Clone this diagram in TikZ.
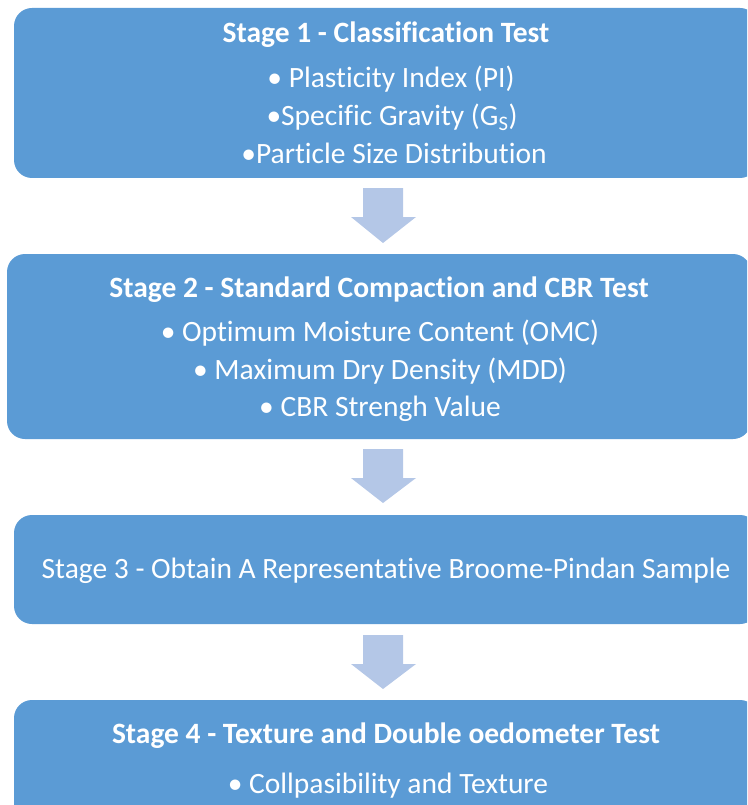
\documentclass[tikz,border=0pt]{standalone}
\usepackage{fontspec}
\setmainfont{Carlito}[Ligatures=NoCommon]
\definecolor{boxblue}{HTML}{5B9BD5}
\definecolor{arrowblue}{HTML}{B4C7E7}
\tikzset{
  stagebox/.style={fill=boxblue, draw=none, rounded corners=18pt, inner sep=0pt},
  title/.style={text=white, font=\fontsize{29.5}{34}\selectfont\bfseries, anchor=base, inner sep=0pt},
  item/.style={text=white, font=\fontsize{29.5}{34}\selectfont, anchor=base, inner sep=0pt},
  flowarrow/.style={fill=arrowblue, draw=none}
}
\newcommand{\blockarrow}[3]{% x center, top y, tip y
  \fill[flowarrow] (#1-20,#2) -- (#1+20,#2) -- (#1+20,#2+29) -- (#1+33,#2+29) -- (#1,#3) -- (#1-32,#2+29) -- (#1-20,#2+29) -- cycle;
}
\begin{document}
\begin{tikzpicture}[x=1pt,y=-1pt]
\useasboundingbox (0,0) rectangle (747,805);
\clip (0,0) rectangle (747,805);
% boxes
\node[stagebox, minimum width=744pt, minimum height=170pt] (b1) at (386,93) {};
\node[stagebox, minimum width=744pt, minimum height=185pt] (b2) at (379,346.5) {};
\node[stagebox, minimum width=744pt, minimum height=109pt] (b3) at (386,569.5) {};
\node[stagebox, minimum width=744pt, minimum height=140pt] (b4) at (386,770) {};
% arrows
\blockarrow{383}{188}{243}
\blockarrow{383}{449}{503}
\blockarrow{383}{635}{689}
% texts
\node[title] (t1) at (386,43) {Stage 1 - Classification Test};
\node[item] (t1a) at (391,88) {• Plasticity Index (PI)};
\node[item] (t1b) at (392,126) {•Specific Gravity (G\textsubscript{S})};
\node[item] (t1c) at (394,164) {•Particle Size Distribution};
\node[title] (t2) at (379,297) {Stage 2 - Standard Compaction and CBR Test};
\node[item] (t2a) at (380,341) {• Optimum Moisture Content (OMC)};
\node[item] (t2b) at (380,379) {• Maximum Dry Density (MDD)};
\node[item] (t2c) at (380,416) {• CBR Strengh Value};
\node[item] (t3) at (386,578) {Stage 3 - Obtain A Representative Broome-Pindan Sample};
\node[title] (t4) at (386,743) {Stage 4 - Texture and Double oedometer Test};
\node[item] (t4a) at (388,793) {• Collpasibility and Texture};
\end{tikzpicture}
\end{document}
